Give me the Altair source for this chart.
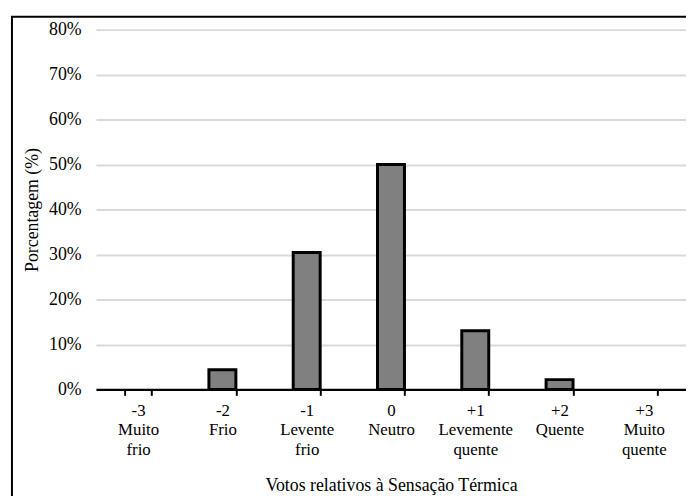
import altair as alt
import pandas as pd

# Category labels (lines of each tick label)
codes = ["-3", "-2", "-1", "0", "+1", "+2", "+3"]
names = ["Muito|frio", "Frio", "Levente|frio", "Neutro", "Levemente|quente", "Quente", "Muito|quente"]
# Percent of votes
values = [0.0, 4.35, 30.43, 50.0, 13.04, 2.17, 0.0]

cats = [c + "|" + n for c, n in zip(codes, names)]
df = pd.DataFrame({"cat": cats, "pct": [v / 100 for v in values]})

FONT = "Liberation Serif"

bars = alt.Chart(df).transform_filter("datum.pct > 0").mark_bar(
    color="#808080", stroke="black", strokeWidth=3
).encode(
    x=alt.X(
        "cat:N", sort=cats,
        scale=alt.Scale(domain=cats, paddingInner=0.68, paddingOuter=0.34),
        axis=alt.Axis(
            title="Votos relativos à Sensação Térmica",
            labelExpr="split(datum.label, '|')",
            labelAngle=0, labelLineHeight=20, labelFontSize=17,
            labelFont=FONT, labelColor="black", labelBaseline="top",
            labelPadding=7, tickBand="extent", tickSize=6, tickWidth=2,
            tickColor="black", domainColor="black", domainWidth=2.5,
            titleFont=FONT, titleFontSize=18, titleFontWeight="normal",
            titleColor="black", titlePadding=19,
        ),
    ),
    y=alt.Y(
        "pct:Q",
        scale=alt.Scale(domain=[0, 0.8], nice=False),
        axis=alt.Axis(
            title="Porcentagem (%)", format=".0%", values=[i / 10 for i in range(9)],
            domain=False, ticks=False, gridColor="#d9d9d9", gridWidth=2,
            labelFont=FONT, labelFontSize=18, labelColor="black", labelPadding=15,
            titleFont=FONT, titleFontSize=18, titleFontWeight="normal",
            titleColor="black", titleX=-64, titleY=182, titleBaseline="middle",
            titleAlign="center",
        ),
    ),
)

frame = alt.Chart(alt.Data(values=[{"a": 1}])).mark_rect(
    fill="transparent", stroke="black", strokeWidth=2
).encode(
    x=alt.value(-85), x2=alt.value(720),
    y=alt.value(-13), y2=alt.value(600),
)

chart = alt.layer(bars, frame).properties(
    width=597, height=364,
    autosize=alt.AutoSizeParams(type="none"),
    padding={"left": 89, "top": 19, "right": 0, "bottom": 105},
).configure_view(stroke=None).configure_axis(labelFlush=False)

chart.save("out.html", embed_options={"renderer": "svg", "actions": False})
